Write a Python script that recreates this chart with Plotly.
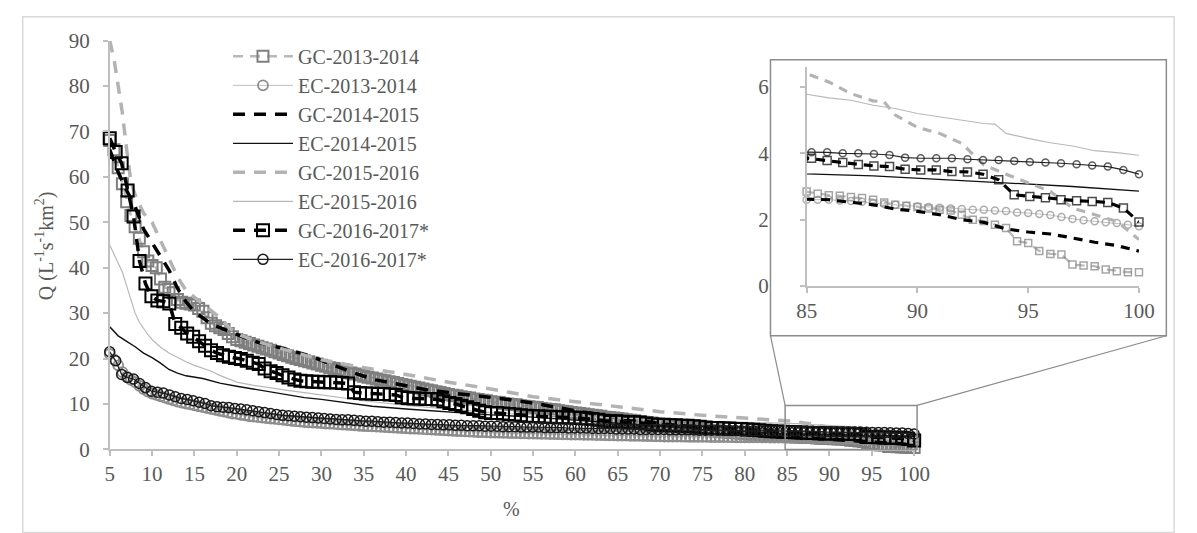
import numpy as np
import plotly.graph_objects as go

W, H = 1197, 533


def px(x):
    return x / W


def py(y):
    return 1 - y / H


# ---------------- data (exceedance %, Q) ----------------
GC_1314 = [68.0, 66.0, 62.0, 58.5, 54.5, 51.5, 49.0, 46.5, 43.5, 41.5,
           40.5, 40.0, 37.5, 35.7, 35.2, 34.5, 33.0, 32.4, 32.2, 32.0,
           31.8, 31.0, 30.4, 29.0, 27.8, 27.2, 26.8, 26.4, 25.5, 24.8,
           24.2, 23.9, 23.6, 23.3, 23.0, 22.7, 22.4, 22.1, 21.8, 21.5,
           21.2, 20.9, 20.6, 20.3, 20.0, 19.8, 19.5, 19.3, 19.0, 18.8,
           18.5, 18.3, 18.0, 17.8, 17.5, 17.3, 17.0, 16.8, 16.6, 16.4,
           16.1, 15.9, 15.7, 15.5, 15.3, 15.1, 14.9, 14.7, 14.5, 14.3,
           14.1, 13.9, 13.7, 13.5, 13.3, 13.1, 12.9, 12.7, 12.5, 12.3,
           12.1, 11.9, 11.8, 11.6, 11.4, 11.3, 11.1, 11.0, 10.8, 10.7,
           10.5, 10.4, 10.3, 10.1, 10.0, 9.9, 9.8, 9.6, 9.5, 9.4,
           9.3, 9.2, 9.0, 8.9, 8.8, 8.7, 8.5, 8.4, 8.3, 8.1,
           8.0, 7.9, 7.8, 7.6, 7.5, 7.4, 7.3, 7.1, 7.0, 6.9,
           6.8, 6.7, 6.5, 6.4, 6.3, 6.1, 6.0, 5.9, 5.8, 5.6,
           5.5, 5.4, 5.3, 5.2, 5.0, 4.9, 4.8, 4.7, 4.6, 4.5,
           4.4, 4.3, 4.2, 4.1, 4.0, 3.9, 3.8, 3.7, 3.65, 3.6,
           3.5, 3.4, 3.35, 3.3, 3.2, 3.15, 3.1, 3.0, 2.95, 2.9,
           2.85, 2.78, 2.74, 2.72, 2.68, 2.65, 2.6, 2.52, 2.45, 2.42,
           2.38, 2.34, 2.3, 2.28, 2.15, 2.0, 1.96, 1.85, 1.75, 1.35,
           1.3, 1.06, 0.97, 0.95, 0.65, 0.62, 0.6, 0.5, 0.45, 0.42,
           0.42]

EC_1314 = [21.0, 19.8, 18.5, 17.0, 16.0, 15.3, 14.8, 14.0, 13.3, 12.7,
           12.3, 12.0, 11.7, 11.4, 11.1, 10.8, 10.5, 10.3, 10.1, 9.9,
           9.7, 9.5, 9.3, 9.1, 8.9, 8.7, 8.5, 8.3, 8.1, 7.9,
           7.8, 7.6, 7.5, 7.3, 7.2, 7.1, 7.0, 6.9, 6.8, 6.7,
           6.6, 6.5, 6.4, 6.3, 6.2, 6.1, 6.0, 5.95, 5.9, 5.85,
           5.8, 5.7, 5.65, 5.6, 5.5, 5.45, 5.4, 5.35, 5.3, 5.2,
           5.15, 5.1, 5.05, 5.0, 4.95, 4.9, 4.85, 4.8, 4.75, 4.7,
           4.65, 4.6, 4.55, 4.5, 4.45, 4.4, 4.35, 4.3, 4.25, 4.2,
           4.15, 4.1, 4.05, 4.0, 3.95, 3.9, 3.85, 3.8, 3.78, 3.75,
           3.72, 3.7, 3.67, 3.65, 3.62, 3.6, 3.57, 3.55, 3.52, 3.5,
           3.47, 3.45, 3.42, 3.4, 3.38, 3.36, 3.34, 3.32, 3.3, 3.28,
           3.26, 3.24, 3.22, 3.2, 3.18, 3.16, 3.14, 3.12, 3.1, 3.08,
           3.06, 3.04, 3.02, 3.0, 2.98, 2.96, 2.94, 2.92, 2.9, 2.88,
           2.86, 2.84, 2.83, 2.82, 2.81, 2.8, 2.79, 2.78, 2.77, 2.76,
           2.75, 2.74, 2.73, 2.72, 2.71, 2.7, 2.69, 2.68, 2.67, 2.66,
           2.65, 2.65, 2.64, 2.64, 2.63, 2.63, 2.62, 2.62, 2.61, 2.61,
           2.6, 2.6, 2.6, 2.58, 2.56, 2.54, 2.5, 2.47, 2.45, 2.42,
           2.4, 2.38, 2.36, 2.34, 2.32, 2.3, 2.3, 2.28, 2.26, 2.22,
           2.2, 2.17, 2.14, 2.08, 2.02, 1.98, 1.95, 1.92, 1.9, 1.85,
           1.8]

GC_1617 = [68.5, 65.5, 63.0, 57.0, 51.3, 41.5, 36.5, 33.7, 32.8, 32.6,
           32.1, 27.6, 26.8, 25.5, 24.8, 23.8, 22.8, 21.8, 21.2, 20.7,
           20.4, 20.1, 19.9, 19.5, 19.1, 18.8, 17.8, 17.2, 16.8, 16.3,
           15.8, 15.4, 15.1, 15.0, 14.9, 14.9, 14.8, 14.8, 14.7, 14.6,
           14.5, 12.6, 12.4, 12.3, 12.3, 12.2, 12.2, 12.1, 12.0, 11.5,
           11.3, 11.2, 11.2, 11.1, 11.1, 11.0, 10.6, 10.2, 10.0, 9.6,
           9.3, 8.9, 8.5, 8.2, 8.0, 8.0, 7.9, 7.8, 7.7, 7.5,
           7.4, 7.3, 7.3, 7.2, 7.2, 7.1, 7.1, 7.0, 7.0, 6.9,
           6.8, 6.7, 6.5, 6.3, 6.2, 6.2, 6.1, 6.0, 6.0, 5.9,
           5.7, 5.5, 5.4, 5.4, 5.3, 5.3, 5.2, 5.2, 5.1, 5.0,
           4.8, 4.7, 4.7, 4.6, 4.6, 4.5, 4.5, 4.4, 4.3, 4.2,
           4.1, 4.0, 3.95, 3.9, 3.85, 3.78, 3.72, 3.66, 3.62, 3.6,
           3.52, 3.5, 3.5, 3.45, 3.44, 3.37, 3.2, 2.75, 2.7, 2.66,
           2.6, 2.57, 2.55, 2.52, 2.35, 1.93]

EC_1617 = [21.5, 19.5, 16.5, 15.8, 15.5, 14.5, 13.6, 12.8, 12.6, 12.4,
           12.0, 11.6, 11.2, 11.0, 10.7, 10.4, 10.1, 9.6, 9.4, 9.3,
           9.2, 9.0, 8.9, 8.7, 8.5, 8.3, 8.1, 7.9, 7.7, 7.5,
           7.4, 7.3, 7.2, 7.1, 7.0, 6.9, 6.8, 6.7, 6.6, 6.5,
           6.5, 6.4, 6.3, 6.2, 6.2, 6.1, 6.0, 6.0, 5.9, 5.8,
           5.8, 5.7, 5.6, 5.6, 5.5, 5.5, 5.4, 5.4, 5.3, 5.3,
           5.2, 5.2, 5.2, 5.1, 5.1, 5.1, 5.0, 5.0, 5.0, 4.9,
           4.9, 4.9, 4.9, 4.8, 4.8, 4.8, 4.8, 4.7, 4.7, 4.7,
           4.7, 4.6, 4.6, 4.6, 4.6, 4.5, 4.5, 4.5, 4.5, 4.4,
           4.4, 4.4, 4.4, 4.4, 4.3, 4.3, 4.3, 4.3, 4.3, 4.2,
           4.2, 4.2, 4.2, 4.2, 4.15, 4.15, 4.1, 4.1, 4.1, 4.1,
           4.05, 4.05, 4.05, 4.05, 4.03, 4.03, 4.0, 4.0, 3.98, 3.95,
           3.87, 3.85, 3.85, 3.85, 3.82, 3.8, 3.8, 3.77, 3.74, 3.72,
           3.7, 3.67, 3.63, 3.6, 3.5, 3.37]

GC_1415 = [(5, 66), (6, 61), (7, 57), (8, 53.5), (9, 48.5), (10, 45.5), (11, 42.5),
           (12, 39.5), (13, 35.5), (14, 32.5), (15, 30.3), (17, 27.6), (20, 25.3),
           (22.6, 23.5), (26, 22), (28.8, 20.5), (31.4, 18.6), (33.7, 16.9),
           (36.4, 15.3), (39.5, 14.2), (42.2, 13.2), (45, 12.5), (48.8, 11.7),
           (52, 11), (55, 10.2), (60, 8.5), (65, 7.0), (70, 5.7), (75, 4.6),
           (80, 3.6), (85, 2.62), (86, 2.6), (87, 2.52), (88, 2.45), (89, 2.32),
           (90, 2.25), (91, 2.15), (92, 2.0), (93, 1.92), (94, 1.72), (95, 1.63),
           (96, 1.57), (97, 1.45), (98, 1.32), (99, 1.22), (100, 1.05)]

EC_1415 = [(5, 27), (6, 25), (7, 23.8), (8, 22.6), (9, 21.2), (10, 20.2), (11, 19),
           (12, 17.6), (13, 16.8), (14, 16.2), (16, 15.6), (18, 14.6), (20, 13.9),
           (22, 13.3), (24, 12.6), (26, 12), (28, 11.4), (30, 11), (32, 10.5),
           (36, 9.5), (40, 8.9), (45, 8.2), (50, 7.6), (55, 7.1), (60, 6.4),
           (65, 5.7), (70, 5.0), (75, 4.4), (80, 3.9), (85, 3.38), (88, 3.32),
           (91, 3.22), (94, 3.12), (97, 3.0), (100, 2.86)]

GC_1516 = [(5, 90), (5.5, 86), (6, 80), (6.5, 74), (7, 66), (7.5, 59), (8, 56),
           (9, 52), (10, 50), (11, 46), (12, 42), (13, 38), (14, 35), (15, 33.5),
           (16, 31.8), (17, 30.5), (18, 29), (19, 27), (20, 25.5), (22, 24),
           (25, 22.3), (30, 19.7), (35, 18), (40, 16.5), (45, 14.8), (50, 13.3),
           (55, 11.6), (60, 10.5), (65, 9.4), (70, 8.3), (75, 7.5), (80, 6.9),
           (85, 6.4), (86, 6.15), (87, 5.8), (88, 5.58), (88.5, 5.55), (89, 5.15),
           (90, 4.78), (91, 4.6), (92, 4.3), (93, 3.65), (94, 3.37), (95, 3.1),
           (96, 2.85), (97, 2.35), (98, 2.15), (99, 1.95), (100, 1.4)]

EC_1516 = [(5, 45), (5.5, 43), (6, 41), (6.5, 39), (7, 36), (7.5, 33), (8, 30),
           (8.5, 28), (9, 26.5), (9.5, 25.3), (10, 24.2), (11, 22.5), (12, 21.2),
           (13, 20.2), (14, 19.3), (15, 18.5), (16, 17.9), (17, 17.2), (18, 16.3),
           (19, 15.5), (20, 14.8), (22, 14.1), (24, 13.5), (26, 13.0), (28, 12.5),
           (30, 12.0), (35, 10.7), (40, 9.7), (45, 8.9), (50, 8.1), (55, 7.6),
           (60, 7.2), (65, 6.85), (70, 6.55), (75, 6.25), (80, 6.0), (85, 5.78),
           (86, 5.67), (87, 5.6), (88, 5.45), (89, 5.35), (90, 5.2), (91, 5.1),
           (92, 5.02), (93, 4.9), (93.5, 4.88), (94, 4.6), (95, 4.45), (96, 4.32),
           (97, 4.22), (98, 4.08), (99, 4.02), (100, 3.94)]

X_TICKS = list(range(5, 101, 5))
Y_TICKS = list(range(0, 91, 10))
X2_TICKS = [85, 90, 95, 100]
Y2_TICKS = [0, 2, 4, 6]


def grid(vals):
    return np.linspace(5, 100, len(vals))


def unzip(pairs):
    return [p[0] for p in pairs], [p[1] for p in pairs]


FONT = "Liberation Serif, Times New Roman, serif"
TXT = "#595959"
AX = "#bfbfbf"

series = [
    dict(name="GC-2013-2014", x=grid(GC_1314), y=GC_1314, mode="lines+markers",
         line=dict(color="#b8b8b8", width=2.5, dash="10px,7px"),
         marker=dict(symbol="square-open", color="#7f7f7f", size=11, line=dict(width=2)),
         isize=7),
    dict(name="EC-2013-2014", x=grid(EC_1314), y=EC_1314, mode="lines+markers",
         line=dict(color="#bfbfbf", width=1),
         marker=dict(symbol="circle-open", color="#8c8c8c", size=10, line=dict(width=1.8)),
         isize=7),
    dict(name="GC-2014-2015", x=unzip(GC_1415)[0], y=unzip(GC_1415)[1], mode="lines",
         line=dict(color="#000000", width=3.5, dash="12px,9px")),
    dict(name="EC-2014-2015", x=unzip(EC_1415)[0], y=unzip(EC_1415)[1], mode="lines",
         line=dict(color="#111111", width=1.4)),
    dict(name="GC-2015-2016", x=unzip(GC_1516)[0], y=unzip(GC_1516)[1], mode="lines",
         line=dict(color="#b3b3b3", width=3.5, dash="12px,9px")),
    dict(name="EC-2015-2016", x=unzip(EC_1516)[0], y=unzip(EC_1516)[1], mode="lines",
         line=dict(color="#b8b8b8", width=1.2)),
    dict(name="GC-2016-2017*", x=grid(GC_1617), y=GC_1617, mode="lines+markers",
         line=dict(color="#000000", width=3.5, dash="12px,9px"),
         marker=dict(symbol="square-open", color="#000000", size=12, line=dict(width=2)),
         isize=8),
    dict(name="EC-2016-2017*", x=grid(EC_1617), y=EC_1617, mode="lines+markers",
         line=dict(color="#222222", width=1.3),
         marker=dict(symbol="circle-open", color="#1a1a1a", size=10, line=dict(width=1.5)),
         isize=7),
]

fig = go.Figure()

for i, s in enumerate(series):
    kw = dict(x=s["x"], y=s["y"], mode=s["mode"], name=s["name"], line=s["line"],
              legendgroup=f"g{i}", showlegend=True, cliponaxis=False,
              xaxis="x", yaxis="y", hoverinfo="skip")
    if "marker" in s:
        kw["marker"] = s["marker"]
    fig.add_trace(go.Scatter(**kw))

# inset traces (same data, zoomed axes)
for i, s in enumerate(series):
    line = dict(s["line"])
    if "dash" in line:
        line["dash"] = "9px,7px"
    line["width"] = max(1.0, line["width"] * 0.9)
    kw = dict(x=s["x"], y=s["y"], mode=s["mode"], line=line, showlegend=False,
              legendgroup=f"g{i}", xaxis="x2", yaxis="y2", cliponaxis=False,
              hoverinfo="skip")
    if "marker" in s:
        m = dict(s["marker"])
        m["size"] = [s["isize"] if xv >= 84.999 else 0 for xv in s["x"]]
        m["line"] = dict(width=1.5)
        kw["marker"] = m
    fig.add_trace(go.Scatter(**kw))

axis_common = dict(showgrid=False, zeroline=False, showline=True, linecolor=AX,
                   linewidth=1.5, ticks="outside", ticklen=5, tickcolor=AX,
                   tickwidth=1.5)
TF = dict(family=FONT, size=21, color=TXT)

shapes = [
    # outer chart frame
    dict(type="rect", xref="paper", yref="paper", x0=px(12), x1=px(1190),
         y0=py(545), y1=py(5), line=dict(color="#d9d9d9", width=1.5), layer="below"),
    # inset box
    dict(type="rect", xref="paper", yref="paper", x0=px(777), x1=px(1182),
         y0=py(339), y1=py(50), line=dict(color="#8c8c8c", width=1.5),
         fillcolor="white", layer="below"),
    # zoom box on main plot
    dict(type="rect", xref="paper", yref="paper", x0=px(792), x1=px(927),
         y0=py(458), y1=py(412), line=dict(color="#8c8c8c", width=1.5)),
    # connectors
    dict(type="line", xref="paper", yref="paper", x0=px(792), y0=py(412),
         x1=px(777), y1=py(339), line=dict(color="#8c8c8c", width=1.2)),
    dict(type="line", xref="paper", yref="paper", x0=px(927), y0=py(412),
         x1=px(1182), y1=py(339), line=dict(color="#8c8c8c", width=1.2)),
]

fig.update_layout(
    width=W, height=H,
    margin=dict(l=0, r=0, t=0, b=0),
    paper_bgcolor="white", plot_bgcolor="rgba(0,0,0,0)",
    font=dict(family=FONT, color=TXT, size=20),
    xaxis=dict(domain=[px(101), px(924)], range=[5, 100], tickvals=X_TICKS,
               anchor="y", ticklabelstandoff=0, tickfont=TF, **axis_common),
    yaxis=dict(domain=[py(458), py(30)], range=[0, 90], tickvals=Y_TICKS,
               anchor="x", ticklabelstandoff=9, tickfont=TF, **axis_common),
    xaxis2=dict(domain=[px(814), px(1154)], range=[85, 100], tickvals=X2_TICKS,
                anchor="y2", ticklabelstandoff=0, tickfont=TF, **axis_common),
    yaxis2=dict(domain=[py(287), py(57.6)], range=[0, 6.6], tickvals=Y2_TICKS,
                anchor="x2", ticklabelstandoff=27, tickfont=TF, **axis_common),
    legend=dict(x=px(222), y=py(26), xanchor="left", yanchor="top",
                bgcolor="rgba(0,0,0,0)", font=dict(family=FONT, size=20, color=TXT),
                tracegroupgap=3.2, itemwidth=60, traceorder="normal"),
    shapes=shapes,
    annotations=[
        dict(text="Q (L<sup>-1</sup>s<sup>-1</sup>km<sup>2</sup>)", xref="paper",
             yref="paper", x=px(35), y=py(245), xanchor="center", yanchor="middle",
             textangle=-90, showarrow=False,
             font=dict(family=FONT, size=20, color=TXT)),
        dict(text="%", xref="paper", yref="paper", x=px(512), y=py(520),
             xanchor="center", yanchor="middle",
             showarrow=False, font=dict(family=FONT, size=20, color=TXT)),
    ],
)

fig.write_html("out.html")
